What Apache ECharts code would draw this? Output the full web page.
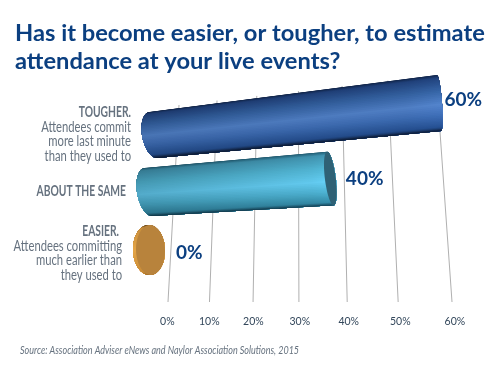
<!DOCTYPE html>
<html>
<head>
<meta charset="utf-8">
<style>html,body{margin:0;padding:0;background:#fff}#c{width:500px;height:372px}</style>
<script src="https://cdn.jsdelivr.net/npm/echarts@6/dist/echarts.min.js"></script>
</head>
<body>
<div id="c"></div>
<script>
// ---- data ----
var titleText = 'Has it become easier, or tougher, to estimate\nattendance at your live events?';
var sourceText = 'Source: Association Adviser eNews and Naylor Association Solutions, 2015';
var tickValues = [0, 10, 20, 30, 40, 50, 60];
var barValues = [60, 40, 0];
var labelHeads = ['TOUGHER.', 'ABOUT THE SAME', 'EASIER.'];
var labelBodies = [
  ['Attendees commit', 'more last minute', 'than they used to'],
  [],
  ['Attendees committing', 'much earlier than', 'they used to']
];

// ---- layout: the perspective planes the flat axis is projected on ----
var axisMax = 60;
var gridQuad = [[179, 105], [436, 75], [452, 302], [168, 302]];
var rowQuads = [
  [[150, 112], [437, 75], [441, 131], [157, 158]],
  [[145, 168], [435, 142], [441, 199], [152, 216]],
  [[148.5, 225], [440, 205], [440, 265], [149.5, 275]]
];
var rowStyle = [
  { leftR: 11.5, rightR: 3, capR: 0, capDx: 0, cap: null, edge: 0.92, gapX: 2.5, dy: -3,
    stops: [[0,'#0f2347'],[0.05,'#1f3f78'],[0.28,'#33609f'],[0.52,'#4f7ec4'],[0.72,'#3a68ae'],[0.93,'#234c8c'],[1,'#0c1a33']] },
  { leftR: 11.5, rightR: 5.5, capR: 5.5, capDx: 0, cap: '#2f6175', edge: 0.85, gapX: 10, dy: 0,
    stops: [[0,'#1f5a70'],[0.06,'#3f90ac'],[0.3,'#4fb2d0'],[0.55,'#62c9ee'],[0.75,'#4aaccb'],[0.94,'#3286a2'],[1,'#123c50']] },
  { leftR: 16, rightR: 16, capR: 14.5, capDx: 1.5, cap: '#b8833c', edge: 1, gapX: 11, dy: 2.5,
    stops: [[0,'#5b3d14'],[0.06,'#c98f3e'],[0.5,'#e4a547'],[0.94,'#c98c38'],[1,'#9a6a26']] }
];
var labelRight = [[131, 131], [126, 126], [119, 122]];
var labelTop = [112, 191, 231];

function homography(q) {
  var dx1 = q[1][0] - q[2][0], dx2 = q[3][0] - q[2][0], sx = q[0][0] - q[1][0] + q[2][0] - q[3][0];
  var dy1 = q[1][1] - q[2][1], dy2 = q[3][1] - q[2][1], sy = q[0][1] - q[1][1] + q[2][1] - q[3][1];
  var den = dx1 * dy2 - dx2 * dy1;
  var g = (sx * dy2 - dx2 * sy) / den, h = (dx1 * sy - sx * dy1) / den;
  var a = q[1][0] - q[0][0] + g * q[1][0], b = q[3][0] - q[0][0] + h * q[3][0];
  var d = q[1][1] - q[0][1] + g * q[1][1], e = q[3][1] - q[0][1] + h * q[3][1];
  return function (u, v) {
    var w = g * u + h * v + 1;
    return [(a * u + b * v + q[0][0]) / w, (d * u + e * v + q[0][1]) / w];
  };
}
var gridWarp = homography(gridQuad), rowWarps = rowQuads.map(homography);

function unitU(api, params, value) {
  var p = api.coord([value, 0]), c = params.coordSys;
  return (p[0] - c.x) / c.width;
}
function hex(c) { return [parseInt(c.substr(1,2),16), parseInt(c.substr(3,2),16), parseInt(c.substr(5,2),16)]; }
function shade(stops, s, k) {
  for (var i = 1; i < stops.length; i++) {
    if (s <= stops[i][0] || i === stops.length - 1) {
      var f = (s - stops[i-1][0]) / (stops[i][0] - stops[i-1][0]);
      var a = hex(stops[i-1][1]), b = hex(stops[i][1]);
      return 'rgb(' + [0,1,2].map(function (j) { return Math.min(255, Math.round((a[j] + (b[j]-a[j]) * f) * k)); }).join(',') + ')';
    }
  }
}

function renderGrid(params, api) {
  var val = api.value(0), u = unitU(api, params, val);
  var a = gridWarp(u, 0), b = gridWarp(u, 1);
  return { type: 'group', children: [
    { type: 'line', shape: { x1: a[0], y1: a[1], x2: b[0], y2: b[1] }, style: { stroke: '#b0b0b0', lineWidth: 1 } },
    { type: 'text', x: b[0] + (b[0] - a[0]) * 0.13 + 0.8, y: 321.5,
      style: { text: val + '%', font: '10.5px Lato', fill: '#33475b', align: 'center', verticalAlign: 'middle' } }
  ] };
}

function renderBar(params, api) {
  var idx = params.dataIndex, val = api.value(0), st = rowStyle[idx], warp = rowWarps[idx];
  var u0 = unitU(api, params, 0), u1 = unitU(api, params, val);
  var kids = [], n = 48, m = 96;
  function point(u, th, dx) { var p = warp(u, (1 - Math.cos(th)) / 2); return [p[0] + dx * Math.sin(th), p[1]]; }
  // painted from the top of the cylinder downward, each layer covering everything below it
  for (var i = 0; i < n; i++) {
    var start = Math.PI * i / n, right = [], left = [];
    for (var k = 0; k <= m; k++) {
      var th = start + (Math.PI - start) * k / m;
      right.push(point(u1, th, st.rightR));
      left.unshift(point(u0, th, -st.leftR));
    }
    var s = (1 - Math.cos(start + Math.PI / n / 2)) / 2;
    var x0 = point(u0, Math.PI / 2, -st.leftR)[0], x1 = point(u1, Math.PI / 2, st.rightR)[0];
    var fill = val > 0 ? {
      type: 'linear', global: true, x: x0, y: 0, x2: x1, y2: 0,
      colorStops: [
        { offset: 0, color: shade(st.stops, s, st.edge) },
        { offset: 0.88, color: shade(st.stops, s, 1) },
        { offset: 1, color: shade(st.stops, s, 1.05) }
      ]
    } : shade(st.stops, s, 1);
    kids.push({ type: 'polygon', shape: { points: right.concat(left) }, style: { fill: fill } });
  }
  if (st.cap) {
    var pts = [];
    for (var j = 0; j <= 64; j++) {
      var a = 2 * Math.PI * j / 64;
      var p = warp(u1, (1 - Math.cos(a)) / 2);
      pts.push([p[0] + Math.sin(a) * st.capR + st.capDx, p[1]]);
    }
    kids.push({ type: 'polygon', shape: { points: pts }, style: { fill: st.cap } });
  }
  return { type: 'group', children: kids };
}

function renderValue(params, api) {
  var idx = params.dataIndex, val = api.value(0), st = rowStyle[idx];
  var p = rowWarps[idx](unitU(api, params, val), 0.5);
  return { type: 'text', x: p[0] + st.rightR + st.gapX, y: p[1] + st.dy,
    style: { text: val + '%', font: 'bold 19px Lato', fill: '#0b3f80', align: 'left', verticalAlign: 'middle' } };
}

function renderLabel(params) {
  var idx = params.dataIndex, kids = [];
  kids.push({ type: 'text', x: labelRight[idx][0], y: labelTop[idx], scaleX: 0.71,
    style: { text: labelHeads[idx], font: 'bold 14.5px Lato', fill: '#66727f', align: 'right', verticalAlign: 'middle' } });
  labelBodies[idx].forEach(function (line, j) {
    kids.push({ type: 'text', x: labelRight[idx][1], y: labelTop[idx] + 15 + j * 14.7, scaleX: 0.775,
      style: { text: line, font: '14.5px Lato', fill: '#66727f', align: 'right', verticalAlign: 'middle' } });
  });
  return { type: 'group', children: kids };
}

var chart = echarts.init(document.getElementById('c'), null, { renderer: 'canvas' });
chart.setOption({
  animation: false,
  backgroundColor: '#ffffff',
  title: { text: titleText, left: 15, top: 19, padding: 0,
    textStyle: { fontFamily: 'Lato', fontWeight: 'bold', fontSize: 23.7, lineHeight: 28, color: '#0b3f80' } },
  graphic: [
    { type: 'text', x: 20, y: 351, scaleX: 0.858,
      style: { text: sourceText, font: 'italic 10.5px Lato', fill: '#66727f', align: 'left', verticalAlign: 'middle' } }
  ],
  grid: { left: 0, right: 0, top: 0, bottom: 0 },
  xAxis: { type: 'value', min: 0, max: axisMax, interval: 10, show: false },
  yAxis: { type: 'value', min: 0, max: 1, show: false },
  series: [
    { type: 'custom', silent: true, clip: false, z: 1, renderItem: renderGrid, data: tickValues.map(function (t) { return [t]; }), encode: { x: 0 } },
    { type: 'custom', silent: true, clip: false, z: 2, renderItem: renderBar, data: barValues.map(function (t) { return [t]; }), encode: { x: 0 } },
    { type: 'custom', silent: true, clip: false, z: 3, renderItem: renderValue, data: barValues.map(function (t) { return [t]; }), encode: { x: 0 } },
    { type: 'custom', silent: true, clip: false, z: 3, renderItem: renderLabel, data: barValues.map(function (t) { return [t]; }), encode: { x: 0 } }
  ]
});
</script>
</body>
</html>
